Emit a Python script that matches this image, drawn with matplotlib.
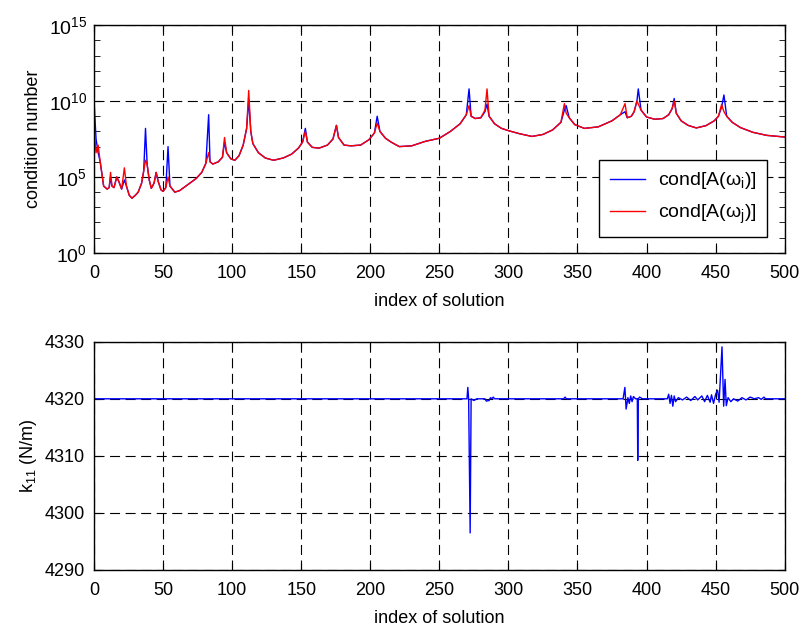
import numpy as np
import matplotlib
matplotlib.use('Agg')
import matplotlib.pyplot as plt
from matplotlib.ticker import NullFormatter

plt.rcParams['font.family'] = ['Liberation Sans', 'DejaVu Sans']
plt.rcParams['mathtext.fontset'] = 'custom'
plt.rcParams['mathtext.rm'] = 'Liberation Sans'
plt.rcParams['mathtext.it'] = 'Liberation Sans:italic'

# condition number: index, log10(cond) for the two series
idx_top = [0, 1.5, 3, 4.5, 7, 9.5, 11, 12, 13, 14.5, 16.5, 18, 20, 22, 23.5, 25.5,
           27.5, 30, 32, 34.5, 36, 37.3, 38.5, 40, 41.5, 43.5, 45, 46.5, 48.5, 50,
           52, 53.6, 55, 58.5, 62, 68, 74, 78, 81, 83, 84, 86, 90, 93, 94.5, 96,
           99, 102, 105, 108, 110.5, 112, 113.5, 115, 119, 124, 130, 137, 143, 148,
           151, 153, 154.5, 158, 163, 169, 173, 175.5, 177, 181, 186, 193, 199, 203,
           205, 207, 211, 215, 221, 230, 240, 250, 258, 265, 269.5, 271.5, 273, 276,
           280, 283, 284.5, 286, 290, 295, 300, 308, 317, 325, 332, 338, 340.5,
           341.8, 344, 348, 355, 365, 375, 381, 384.4, 386, 389, 391, 393, 394, 396,
           400, 406, 412, 416, 418.5, 420, 421.5, 425, 430, 436, 443, 449, 452,
           454.3, 456, 458, 462, 468, 477, 487, 500]
log_cond_i = [10.1, 7.5, 6.6, 6.0, 4.4, 4.2, 4.3, 5.0, 4.4, 4.3, 5.0, 4.7, 4.2, 4.8, 4.4, 3.8,
              3.6, 3.8, 4.0, 4.6, 5.4, 8.2, 5.8, 4.8, 4.25, 4.6, 5.3, 4.7, 4.15, 4.05,
              4.3, 7.0, 4.4, 4.0, 4.1, 4.5, 4.9, 5.3, 5.9, 9.1, 6.0, 5.85, 6.0, 6.3, 7.3, 6.6,
              6.2, 6.1, 6.4, 7.1, 8.2, 10.1, 8.0, 7.2, 6.6, 6.25, 6.1, 6.25, 6.5, 6.9,
              7.3, 8.2, 7.3, 6.95, 6.9, 7.1, 7.5, 8.4, 7.6, 7.1, 7.05, 7.1, 7.45, 7.9,
              9.0, 8.0, 7.55, 7.3, 7.0, 7.05, 7.35, 7.55, 8.0, 8.5, 9.1, 10.8, 9.0, 8.85,
              8.9, 9.3, 9.8, 9.0, 8.5, 8.2, 8.05, 7.85, 7.67, 7.8, 8.1, 8.6, 9.4,
              9.7, 8.9, 8.45, 8.2, 8.3, 8.7, 9.1, 9.3, 8.9, 9.0, 9.3, 10.0, 10.8, 9.4,
              8.95, 8.8, 8.85, 9.1, 9.5, 10.17, 9.2, 8.7, 8.4, 8.23, 8.38, 8.7, 9.0,
              9.6, 10.4, 9.0, 8.6, 8.25, 7.94, 7.74, 7.63]
log_cond_j = [8.2, 6.6, 7.1, 6.0, 4.4, 4.2, 4.3, 5.3, 4.4, 4.3, 5.0, 4.7, 4.2, 5.6, 4.4, 3.8,
              3.6, 3.8, 4.0, 4.6, 5.4, 6.1, 5.8, 4.8, 4.25, 4.6, 5.3, 4.7, 4.15, 4.05,
              4.3, 5.0, 4.4, 4.0, 4.1, 4.5, 4.9, 5.3, 5.9, 6.6, 6.0, 5.85, 6.0, 6.3, 7.6, 6.6,
              6.2, 6.1, 6.4, 7.1, 8.2, 10.7, 8.0, 7.2, 6.6, 6.25, 6.1, 6.25, 6.5, 6.9,
              7.3, 8.0, 7.3, 6.95, 6.9, 7.1, 7.5, 8.4, 7.6, 7.1, 7.05, 7.1, 7.45, 7.9,
              8.55, 8.0, 7.55, 7.3, 7.0, 7.05, 7.35, 7.55, 8.0, 8.5, 9.1, 9.7, 9.0, 8.85,
              8.9, 9.4, 10.8, 9.0, 8.5, 8.2, 8.05, 7.85, 7.67, 7.8, 8.1, 8.6, 9.83,
              9.2, 8.9, 8.45, 8.2, 8.3, 8.7, 9.1, 9.83, 8.9, 9.0, 9.3, 10.0, 9.8, 9.4,
              8.95, 8.8, 8.85, 9.1, 9.5, 10.0, 9.2, 8.7, 8.4, 8.23, 8.38, 8.7, 9.0,
              9.77, 9.3, 9.0, 8.6, 8.25, 7.94, 7.74, 7.63]

# identified stiffness k11
idx_k = [0, 270, 270.6, 271.2, 272.3, 273, 275, 277, 283, 284, 286, 287, 288, 289, 290,
         340, 341, 342, 383, 384.3, 385.2, 386.5, 387.5, 388.5, 389.5, 390.5, 392,
         393.3, 393.6, 394, 395, 397, 415, 416, 417, 418, 419, 420, 421, 423, 426,
         429, 432, 435, 437, 440, 442, 444, 446, 447, 448.5, 450, 451.4, 452.5,
         454.6, 455.8, 456.8, 457.7, 459, 461, 463, 466, 469, 472, 475, 478, 481,
         483, 485, 486, 500]
k11 = [4320, 4320, 4322.0, 4320, 4296.5, 4320, 4319.7, 4320, 4320, 4319.6, 4319.7, 4320.2,
       4320, 4320.3, 4320, 4320, 4320.3, 4320, 4320, 4322, 4318.2, 4320.2, 4319.2,
       4320.5, 4319.5, 4320.4, 4320, 4320, 4309.2, 4320, 4320.3, 4320, 4320, 4320.8,
       4319.2, 4320.6, 4318.7, 4320.5, 4319.5, 4320.2, 4319.8, 4320.3, 4319.7, 4320.4,
       4319.8, 4320.5, 4319.5, 4320.6, 4319.4, 4320.7, 4319.2, 4320.8, 4321.5, 4319.4,
       4329.1, 4318.7, 4323.4, 4318.8, 4320.2, 4319.5, 4320, 4319.6, 4320.2, 4319.8,
       4320.3, 4320, 4320.2, 4319.9, 4320.3, 4320, 4320]

fs = 13
fig = plt.figure(figsize=(8.06, 6.29), dpi=100)
ax1 = fig.add_axes([0.1166, 0.598, 0.857, 0.362])
ax2 = fig.add_axes([0.1166, 0.0938, 0.857, 0.3629])

ax1.semilogy(idx_top, 10.0 ** np.array(log_cond_i), color='b', linewidth=1.0,
             label='cond[A(ω$_\\mathrm{i}$)]')
ax1.semilogy(idx_top, 10.0 ** np.array(log_cond_j), color='r', linewidth=1.0,
             label='cond[A(ω$_\\mathrm{j}$)]')
ax1.set_xlim(0, 500)
ax1.set_ylim(1e0, 1e15)
ax1.set_yticks([1e0, 1e5, 1e10, 1e15])
ax1.set_yticks(10.0 ** np.arange(16), minor=True)
ax1.yaxis.set_minor_formatter(NullFormatter())
ax1.set_xticks(np.arange(0, 501, 50))
ax1.set_ylabel('condition number', fontsize=fs, labelpad=5)
ax1.set_xlabel('index of solution', fontsize=fs, labelpad=8)
leg = ax1.legend(loc='lower right', bbox_to_anchor=(0.975, 0.07), fontsize=14,
                 fancybox=False, edgecolor='black', framealpha=1, handlelength=1.8,
                 handletextpad=0.67, borderpad=0.55, labelspacing=0.6,
                 borderaxespad=0)
leg.get_frame().set_linewidth(1.0)

ax2.plot(idx_k, k11, color='b', linewidth=1.0)
ax2.set_xlim(0, 500)
ax2.set_ylim(4290, 4330)
ax2.set_yticks([4290, 4300, 4310, 4320, 4330])
ax2.set_xticks(np.arange(0, 501, 50))
ax2.set_ylabel('k$_{11}$ (N/m)', fontsize=fs, labelpad=4)
ax2.set_xlabel('index of solution', fontsize=fs, labelpad=8)

for ax in (ax1, ax2):
    ax.grid(True, which='major', color='black', linestyle=(0, (9, 5)), linewidth=0.8)
    ax.tick_params(which='both', direction='in', top=True, right=True, labelsize=fs)
    ax.tick_params(which='major', length=5)
    ax.tick_params(which='minor', length=4)
    ax.tick_params(axis='x', which='major', pad=8.5)
    ax.tick_params(axis='y', which='major', pad=6.5)
    for s in ax.spines.values():
        s.set_linewidth(1.0)
ax1.tick_params(axis='y', which='major', labelsize=14, pad=5)

fig.savefig('out.png', dpi=100)
